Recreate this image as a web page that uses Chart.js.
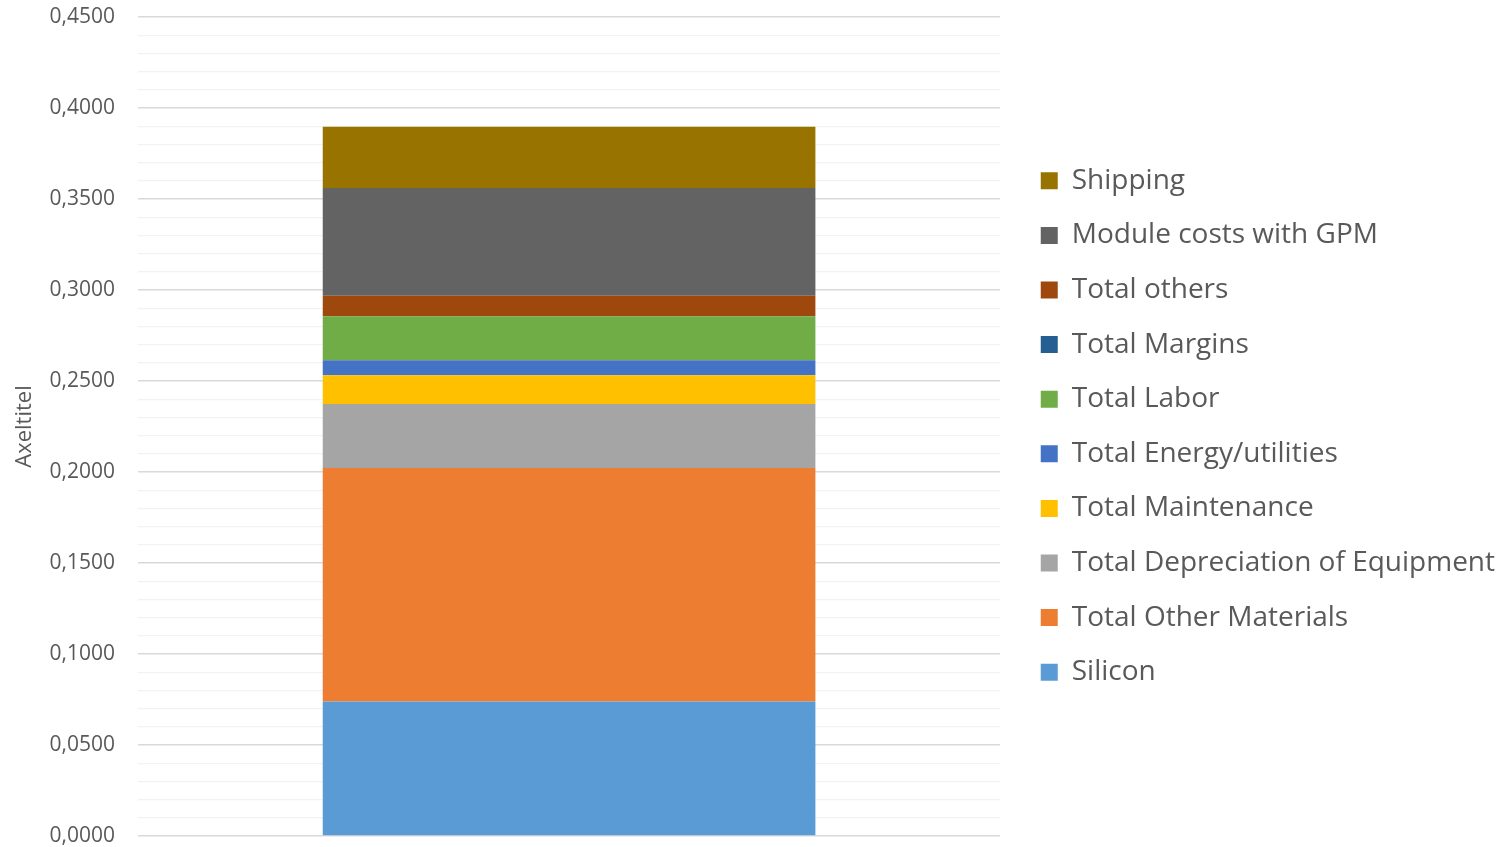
<!DOCTYPE html>
<html>
<head>
<meta charset="utf-8">
<script src="https://cdn.jsdelivr.net/npm/chart.js@4.4.1/dist/chart.umd.min.js"></script>
<style>
  html, body { margin: 0; padding: 0; background: #fff; }
  #wrap { width: 1505px; height: 847px; }
</style>
</head>
<body>
<div id="wrap"><canvas id="costChart"></canvas></div>
<script>
// one single stacked column, cost breakdown (bottom -> top)
const categories = [''];
const seriesNames = [
    'Silicon',
    'Total Other Materials',
    'Total Depreciation of Equipment',
    'Total Maintenance',
    'Total Energy/utilities',
    'Total Labor',
    'Total Margins',
    'Total others',
    'Module costs with GPM',
    'Shipping'
];
const seriesValues = [
    [0.0739],
    [0.1283],
    [0.0352],
    [0.0158],
    [0.0082],
    [0.0242],
    [0.0000],
    [0.0112],
    [0.0593],
    [0.0336]
];
const seriesColors = [
    '#5B9BD5', '#ED7D31', '#A5A5A5', '#FFC000', '#4472C4',
    '#70AD47', '#255E91', '#9E480E', '#636363', '#997300'
];
const yMin = 0;
const yMax = 0.45;
const yStep = 0.01;
const yTitle = 'Axeltitel';

const textColor = '#595959';
const fontFamily = '"Open Sans", "Noto Sans", sans-serif';

const isMajor = (v) => Math.round(v * 100) % 5 === 0;

const datasets = seriesNames.map((name, i) => ({
    label: name,
    data: seriesValues[i],
    backgroundColor: seriesColors[i],
    borderWidth: 0,
    barPercentage: 1 / 1.75,
    categoryPercentage: 1
}));

new Chart(document.getElementById('costChart'), {
    type: 'bar',
    data: { labels: categories, datasets: datasets },
    options: {
        responsive: true,
        maintainAspectRatio: false,
        animation: false,
        layout: { padding: { left: 0, right: 0, top: 17, bottom: 11 } },
        scales: {
            x: {
                stacked: true,
                display: false
            },
            y: {
                stacked: true,
                min: yMin,
                max: yMax,
                border: { display: false },
                grid: {
                    drawTicks: false,
                    color: (c) => isMajor(c.tick.value) ? '#D9D9D9' : '#F2F2F2',
                    lineWidth: (c) => isMajor(c.tick.value) ? 1.5 : 1.2
                },
                ticks: {
                    stepSize: yStep,
                    autoSkip: false,
                    padding: 23,
                    color: textColor,
                    font: { family: fontFamily, size: 21, lineHeight: 1 },
                    callback: (v) => isMajor(v) ? v.toFixed(4).replace('.', ',') : ''
                },
                title: {
                    display: true,
                    text: yTitle,
                    color: textColor,
                    font: { family: fontFamily, size: 22, lineHeight: 1.2 },
                    padding: { top: 12, bottom: 0 }
                },
                afterFit: (scale) => {
                    scale.width = 138;
                    // tick padding is meant horizontally only
                    scale.paddingTop = 0;
                    scale.paddingBottom = 0;
                }
            },
            // empty spacer between plot and legend
            y2: {
                type: 'linear',
                position: 'right',
                display: true,
                border: { display: false },
                grid: { display: false, drawTicks: false },
                ticks: { display: false },
                afterFit: (scale) => { scale.width = 14; }
            }
        },
        plugins: {
            legend: {
                position: 'right',
                reverse: true,
                maxWidth: 600,
                labels: {
                    boxWidth: 17,
                    boxHeight: 17,
                    padding: 26.6,
                    color: textColor,
                    font: { family: fontFamily, size: 28 }
                }
            },
            tooltip: { enabled: false }
        }
    }
});
</script>
</body>
</html>
